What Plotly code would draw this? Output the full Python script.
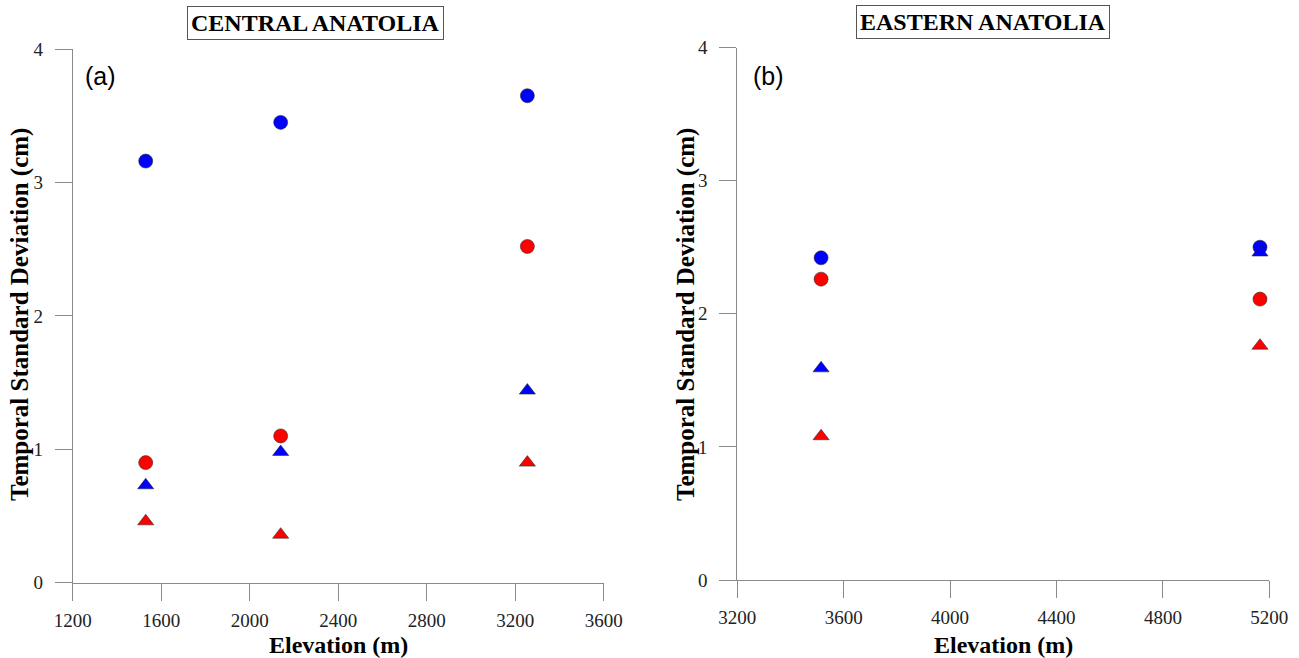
import plotly.graph_objects as go

# ---------------- data ----------------
central_x = [1530, 2140, 3255]
central_blue_circle = [3.16, 3.45, 3.65]
central_red_circle = [0.90, 1.10, 2.52]
central_blue_tri = [0.73, 0.98, 1.44]
central_red_tri = [0.46, 0.36, 0.90]

eastern_x = [3515, 5165]
eastern_blue_circle = [2.42, 2.50]
eastern_red_circle = [2.26, 2.11]
eastern_blue_tri = [1.59, 2.46]
eastern_red_tri = [1.08, 1.76]

central_xticks = [1200, 1600, 2000, 2400, 2800, 3200, 3600]
eastern_xticks = [3200, 3600, 4000, 4400, 4800, 5200]
y_ticks = [0, 1, 2, 3, 4]

panel_titles = ["CENTRAL ANATOLIA", "EASTERN ANATOLIA"]
panel_labels = ["(a)", "(b)"]
x_title = "Elevation (m)"
y_title = "Temporal Standard Deviation (cm)"

# ---------------- styling ----------------
W, H = 1299, 658
BLUE = "#0000FF"
RED = "#FF0000"
AX = "#8a8a8a"
SERIF = "Liberation Serif, Times New Roman, serif"
SANS = "Liberation Sans, Arial, sans-serif"

fig = go.Figure()

def add_series(x, y, color, symbol, size, xa, ya):
    fig.add_trace(go.Scatter(
        x=x, y=y, mode="markers", xaxis=xa, yaxis=ya, showlegend=False,
        marker=dict(color=color, symbol=symbol, size=size,
                    line=dict(color="rgba(40,40,40,0.7)", width=0.8)),
    ))

add_series(central_x, central_blue_circle, BLUE, "circle", 14, "x", "y")
add_series(central_x, central_red_circle, RED, "circle", 14, "x", "y")
add_series(central_x, central_blue_tri, BLUE, "triangle-up", 14, "x", "y")
add_series(central_x, central_red_tri, RED, "triangle-up", 14, "x", "y")

add_series(eastern_x, eastern_blue_circle, BLUE, "circle", 14, "x2", "y2")
add_series(eastern_x, eastern_red_circle, RED, "circle", 14, "x2", "y2")
add_series(eastern_x, eastern_blue_tri, BLUE, "triangle-up", 14, "x2", "y2")
add_series(eastern_x, eastern_red_tri, RED, "triangle-up", 14, "x2", "y2")

def px_x(p):
    return p / W

def px_y(p):
    return 1 - p / H

axis_common = dict(
    showline=True, linecolor=AX, linewidth=1,
    ticks="outside", ticklen=17, tickcolor=AX, tickwidth=1,
    showgrid=False, zeroline=False, mirror=False, automargin=False,
    tickfont=dict(family=SERIF, size=19, color="#222"),
)

fig.update_layout(
    width=W, height=H,
    margin=dict(l=0, r=0, t=0, b=0, autoexpand=False),
    paper_bgcolor="white", plot_bgcolor="white",
    showlegend=False,
    xaxis=dict(axis_common, domain=[px_x(72.7), px_x(603.7)],
               range=[central_xticks[0], central_xticks[-1]],
               tickvals=central_xticks, anchor="y", ticklabelstandoff=3),
    yaxis=dict(axis_common, domain=[px_y(582.7), px_y(49)],
               range=[y_ticks[0], y_ticks[-1]], tickvals=y_ticks,
               anchor="x", ticklabelstandoff=8),
    xaxis2=dict(axis_common, domain=[px_x(737.3), px_x(1269.3)],
                range=[eastern_xticks[0], eastern_xticks[-1]],
                tickvals=eastern_xticks, anchor="y2", ticklabelstandoff=3),
    yaxis2=dict(axis_common, domain=[px_y(580), px_y(47.5)],
                range=[y_ticks[0], y_ticks[-1]], tickvals=y_ticks,
                anchor="x2", ticklabelstandoff=8),
)

annotations = []
# panel titles in boxes
for txt, cx, cy in [(panel_titles[0], 315, 22.5), (panel_titles[1], 983, 21.5)]:
    annotations.append(dict(
        text=f"<b>{txt}</b>", xref="paper", yref="paper",
        x=px_x(cx), y=px_y(cy), xanchor="center", yanchor="middle",
        showarrow=False, font=dict(family=SERIF, size=24, color="black"),
        bordercolor="#555", borderwidth=1, borderpad=3, bgcolor="white",
    ))
# panel labels
for txt, lx in [(panel_labels[0], 83), (panel_labels[1], 751)]:
    annotations.append(dict(
        text=txt, xref="paper", yref="paper",
        x=px_x(lx), y=px_y(76.5), xanchor="left", yanchor="middle",
        showarrow=False, font=dict(family=SANS, size=25, color="black"),
    ))
# x titles
for cx in [338.2, 1003.3]:
    annotations.append(dict(
        text=f"<b>{x_title}</b>", xref="paper", yref="paper",
        x=px_x(cx), y=px_y(645), xanchor="center", yanchor="middle",
        showarrow=False, font=dict(family=SERIF, size=24, color="black"),
    ))
# y titles
for cx in [20, 686]:
    annotations.append(dict(
        text=f"<b>{y_title}</b>", xref="paper", yref="paper",
        x=px_x(cx), y=px_y(315), xanchor="center", yanchor="middle",
        textangle=-90, showarrow=False,
        font=dict(family=SERIF, size=25, color="black"),
    ))

fig.update_layout(annotations=annotations)
fig.write_html("out.html")
